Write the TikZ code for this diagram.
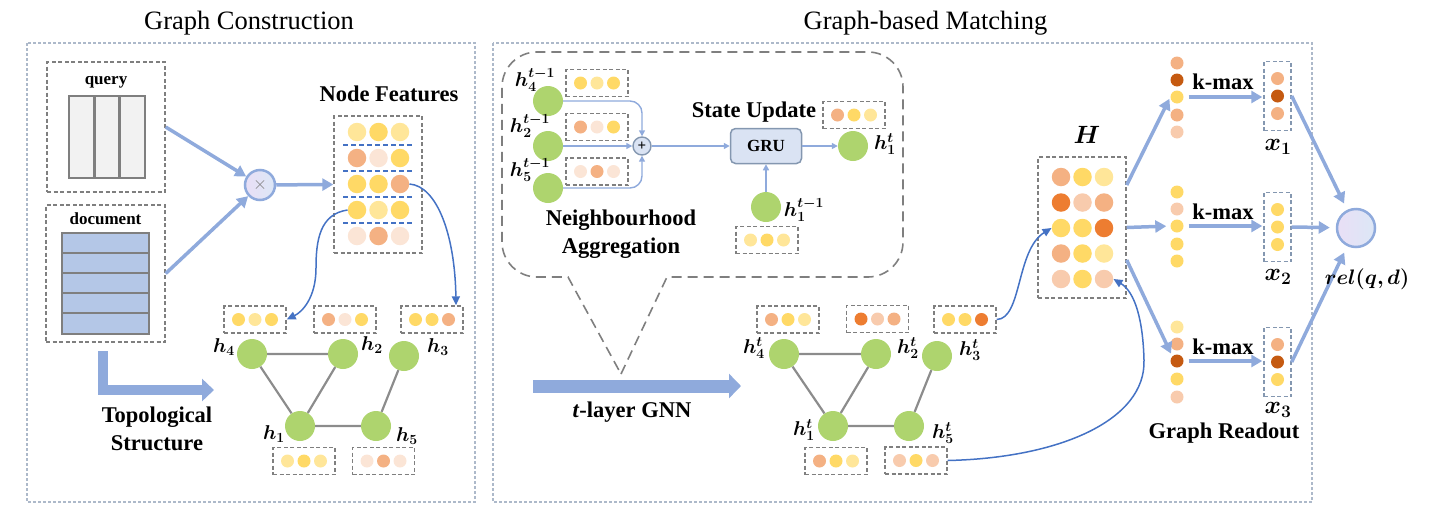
\RequirePackage{fix-cm}
\documentclass[tikz,border=0pt]{standalone}
\usepackage{fontspec}
\setmainfont{Liberation Serif}
\usepackage{amsmath,bm}
\usetikzlibrary{arrows.meta}
\definecolor{yel}{HTML}{FFD966}
\definecolor{lyel}{HTML}{FFE699}
\definecolor{sal}{HTML}{F4B183}
\definecolor{pale}{HTML}{FBE5D6}
\definecolor{peach}{HTML}{F8CBAD}
\definecolor{dor}{HTML}{ED7D31}
\definecolor{brn}{HTML}{C55A11}
\definecolor{gnc}{HTML}{AED46E}
\definecolor{lblue}{HTML}{8FAADC}
\definecolor{dblue}{HTML}{4472C4}
\definecolor{panelc}{HTML}{ADB9CA}
\definecolor{boxg}{HTML}{7F7F7F}
\definecolor{edgeg}{HTML}{8C8C8C}
\definecolor{grufill}{HTML}{DAE3F3}
\definecolor{xboxc}{HTML}{8497B0}
\definecolor{qfill}{HTML}{F2F2F2}
\definecolor{dfill}{HTML}{B4C7E7}
\definecolor{lav}{HTML}{E9DFF6}
\definecolor{lav2}{HTML}{DCE7F6}
\tikzset{
 panel/.style={draw=panelc, dash pattern=on 3pt off 2pt, line width=1.1pt},
 dbox/.style={draw=boxg, dash pattern=on 4pt off 2.5pt, line width=1.4pt, inner sep=0},
 gbox/.style={dbox, minimum width=62pt, minimum height=27pt},
 xbox/.style={draw=xboxc, dash pattern=on 4pt off 2.5pt, line width=1.4pt, inner sep=0, minimum width=27pt, minimum height=69pt},
 fdot/.style={circle, inner sep=0, minimum size=13pt},
 bdot/.style={circle, inner sep=0, minimum size=18.5pt},
 gnode/.style={circle, fill=gnc, inner sep=0, minimum size=30pt},
 fat/.style={draw=lblue, line width=3.5pt, -{Triangle[length=11pt,width=12pt]}},
 thinarrow/.style={draw=lblue, line width=1.4pt, -{Triangle[length=6pt,width=6pt]}},
 bcurve/.style={draw=dblue, line width=1.5pt, -{Triangle[length=9pt,width=8pt]}},
 gedge/.style={draw=edgeg, line width=2.2pt},
 ttl/.style={font=\fontsize{26.5}{30}\selectfont, inner sep=0, anchor=base},
 lbl/.style={font=\fontsize{22.5}{28}\selectfont\bfseries, inner sep=0, align=center},
 sml/.style={font=\fontsize{17}{20}\selectfont\bfseries, inner sep=0},
 mlbl/.style={font=\fontsize{20}{22}\selectfont, inner sep=0},
 blbl/.style={font=\fontsize{25}{28}\selectfont, inner sep=0},
 circ/.style={circle, inner sep=0, left color=lav, right color=lav2, draw=lblue, line width=2.5pt},
}
\newcommand{\fbx}[6]{%
 \node[gbox] (#1) at (#2,#3) {};
 \node[fdot, fill=#4] (#1-1) at ([xshift=-16.5pt]#1.center) {};
 \node[fdot, fill=#5] (#1-2) at (#1.center) {};
 \node[fdot, fill=#6] (#1-3) at ([xshift=16.5pt]#1.center) {};
}
\newcommand{\xbx}[5]{%
 \node[xbox] (#1) at (1277.5,#2) {};
 \node[fdot, fill=#3] (#1-1) at ([yshift=17.5pt]#1.center) {};
 \node[fdot, fill=#4] (#1-2) at (#1.center) {};
 \node[fdot, fill=#5] (#1-3) at ([yshift=-17.5pt]#1.center) {};
}
\newcommand{\hlab}[2]{$\boldsymbol{h}^{\boldsymbol{#1}}_{\boldsymbol{#2}}$}
\newcommand{\hsub}[1]{$\boldsymbol{h}_{\boldsymbol{#1}}$}
\begin{document}
\begin{tikzpicture}[x=1pt,y=-1pt]
\useasboundingbox (0,0) rectangle (1430,520);
% titles and panels
\node[ttl] (t1) at (249,29) {Graph Construction};
\node[ttl] (t2) at (925.5,29) {Graph-based Matching};
\draw[panel] (27,43) rectangle (475,502);
\draw[panel] (493,43) rectangle (1312,502);

% ---------- left panel ----------
\node[dbox, minimum width=118pt, minimum height=130pt] (qbox) at (106,127) {};
\node[sml] (qlab) at (106,82) {query};
\draw[draw=boxg, fill=qfill, line width=2.4pt] (69,96) rectangle (145,178);
\draw[draw=boxg, line width=2.4pt] (94.5,96) -- (94.5,178) (119.5,96) -- (119.5,178);
\node[dbox, minimum width=119pt, minimum height=137pt] (docbox) at (105.5,273.5) {};
\node[sml] (dlab) at (105.5,219) {document};
\draw[draw=boxg, fill=dfill, line width=2.4pt] (62,233) rectangle (149,334);
\draw[draw=boxg, line width=2.4pt] (62,253) -- (149,253) (62,273) -- (149,273) (62,293) -- (149,293) (62,313) -- (149,313);

\node[circ, minimum size=30pt, text=boxg, font=\fontsize{18}{18}\selectfont] (mul) at (260,185) {$\times$};
\node[dbox, minimum width=88pt, minimum height=137pt] (nf) at (378,184.5) {};
\node[lbl] (nflab) at (389,94) {Node Features};
\draw[fat] (qbox.east) -- (mul);
\draw[fat] (docbox.east) -- (mul);
\draw[fat] (mul) -- (nf.west);
% node feature matrix
\foreach \r/\y/\a/\b/\c in {1/132/lyel/yel/lyel, 2/158/sal/pale/yel, 3/184/yel/yel/sal, 4/210/yel/lyel/yel, 5/236/pale/sal/pale}{
 \node[bdot, fill=\a] (nf-\r-1) at (357,\y) {};
 \node[bdot, fill=\b] (nf-\r-2) at (378.5,\y) {};
 \node[bdot, fill=\c] (nf-\r-3) at (400,\y) {};
}
\foreach \y in {145,171,197,223}{
 \draw[dblue, dash pattern=on 5pt off 3pt, line width=1.2pt] (343,\y) -- (413,\y);
}
% graph
\node[gnode] (h4) at (252,354) {};
\node[gnode] (h2) at (343,354) {};
\node[gnode] (h3) at (404,356) {};
\node[gnode] (h1) at (300,426) {};
\node[gnode] (h5) at (376,426) {};
\draw[gedge] (h4) -- (h2) (h4) -- (h1) (h2) -- (h1) (h1) -- (h5) (h5) -- (h3);
\node[mlbl] (lh4) at (224,347) {\hsub{4}};
\node[mlbl] (lh2) at (372,345) {\hsub{2}};
\node[mlbl] (lh3) at (438,347) {\hsub{3}};
\node[mlbl] (lh1) at (274,434) {\hsub{1}};
\node[mlbl] (lh5) at (407,436) {\hsub{5}};
\fbx{fb4}{255}{319.5}{yel}{lyel}{yel}
\fbx{fb2}{345}{319.5}{sal}{pale}{yel}
\fbx{fb3}{432}{319.5}{yel}{yel}{sal}
\fbx{fb1}{304}{461}{lyel}{yel}{lyel}
\fbx{fb5}{383.5}{461}{pale}{sal}{pale}
\draw[bcurve] (nf-4-1.west) .. controls (320,214) and (316,240) .. (316,268) .. controls (316,298) and (302,312) .. (fb4.east);
\draw[bcurve] (nf-3-3.east) .. controls (437,186) and (455,235) .. ([xshift=24pt]fb3.north);
% topological arrow
\coordinate (topA) at (103,351);
\coordinate (topB) at (214,390);
\draw[draw=lblue, line width=10.5pt, -{Triangle[length=12pt,width=22pt]}] (topA) |- (topB);
\node[lbl] (toplab) at (157,429) {Topological\\Structure};

% ---------- right panel ----------
% bubble
\draw[draw=boxg, dash pattern=on 10pt off 6pt, line width=1.6pt]
 (621,374) -- (667,277) -- (868,277) .. controls (887.3,277) and (903,261.3) .. (903,242)
 -- (903,87) .. controls (903,67.7) and (887.3,52) .. (868,52)
 -- (537,52) .. controls (517.7,52) and (502,67.7) .. (502,87)
 -- (502,242) .. controls (502,261.3) and (517.7,277) .. (537,277)
 -- (568,277) -- cycle;
\node[gnode] (a4) at (548,101) {};
\node[gnode] (a2) at (548,146) {};
\node[gnode] (a5) at (548,188) {};
\node[mlbl] (la4) at (535,80) {\hlab{t-1}{4}};
\node[mlbl] (la2) at (530,126) {\hlab{t-1}{2}};
\node[mlbl] (la5) at (530,170) {\hlab{t-1}{5}};
\fbx{fa4}{597}{83}{yel}{lyel}{yel}
\fbx{fa2}{597}{127}{sal}{pale}{yel}
\fbx{fa5}{597}{171.5}{pale}{sal}{pale}
\node[circle, inner sep=0, minimum size=18pt, fill=grufill, draw=xboxc, line width=1.4pt, font=\fontsize{15}{15}\selectfont\bfseries] (plus) at (642,146) {+};
\draw[thinarrow, rounded corners=12pt] (a4.east) -| (plus.north);
\draw[thinarrow, rounded corners=12pt] (a5.east) -| (plus.south);
\draw[thinarrow] (a2) -- (plus);
\node[draw=xboxc, fill=grufill, rounded corners=5pt, line width=1.5pt, minimum width=71pt, minimum height=35pt, inner sep=0, sml] (gru) at (766,146) {GRU};
\node[gnode] (t1a) at (853,146) {};
\node[mlbl] (lt1a) at (885,144) {\hlab{t}{1}};
\node[gnode] (a1) at (766,207) {};
\node[mlbl] (la1) at (804,210) {\hlab{t-1}{1}};
\fbx{fa1}{767}{240}{lyel}{yel}{lyel}
\fbx{fsu}{854}{115}{sal}{yel}{lyel}
\draw[thinarrow] (plus) -- (gru);
\draw[thinarrow] (gru) -- (t1a);
\draw[thinarrow] (a1) -- (gru);
\node[lbl] (sulab) at (754,112) {State Update};
\node[lbl] (nalab) at (621,234) {Neighbourhood\\Aggregation};
% t-layer GNN arrow
\coordinate (gA) at (533,386);
\coordinate (gB) at (741,386);
\draw[draw=lblue, line width=13pt, -{Triangle[length=12pt,width=24pt]}] (gA) -- (gB);
\node[lbl] (gnnlab) at (632,412) {\textit{t}-layer GNN};
% middle graph
\node[gnode] (t4) at (784,354) {};
\node[gnode] (t2) at (876,354) {};
\node[gnode] (t3) at (937,356) {};
\node[gnode] (t1) at (833,426) {};
\node[gnode] (t5) at (909,426) {};
\draw[gedge] (t4) -- (t2) (t4) -- (t1) (t2) -- (t1) (t1) -- (t5) (t5) -- (t3);
\node[mlbl] (lt4) at (754,348) {\hlab{t}{4}};
\node[mlbl] (lt2) at (908,348) {\hlab{t}{2}};
\node[mlbl] (lt3) at (970,350) {\hlab{t}{3}};
\node[mlbl] (lt1) at (804,430) {\hlab{t}{1}};
\node[mlbl] (lt5) at (943,433) {\hlab{t}{5}};
\fbx{ft4}{788}{319.5}{sal}{yel}{lyel}
\fbx{ft2}{877.5}{319}{dor}{peach}{sal}
\fbx{ft3}{965}{319.5}{yel}{yel}{dor}
\fbx{ft1}{836}{461}{sal}{yel}{lyel}
\fbx{ft5}{916}{460.5}{peach}{yel}{peach}
% H matrix
\node[dbox, minimum width=88pt, minimum height=141pt] (Hbox) at (1082,227.5) {};
\node[blbl] (Hlab) at (1087,135) {$\boldsymbol{H}$};
\foreach \r/\y/\a/\b/\c in {1/177/sal/yel/lyel, 2/202.5/dor/peach/sal, 3/228/yel/yel/dor, 4/253.5/sal/yel/lyel, 5/279/peach/yel/peach}{
 \node[bdot, fill=\a] (H-\r-1) at (1061,\y) {};
 \node[bdot, fill=\b] (H-\r-2) at (1082.5,\y) {};
 \node[bdot, fill=\c] (H-\r-3) at (1104,\y) {};
}
\draw[bcurve] (ft3.east) .. controls (1022,319) and (1016,250) .. (H-3-1.west);
\draw[bcurve] (ft5.east) .. controls (1060,458) and (1146,420) .. (1144,360) .. controls (1143,320) and (1135,292) .. (H-5-3.east);
% readout columns
\foreach \k/\y/\c in {1/63/sal, 2/80/brn, 3/97/yel, 4/115/sal, 5/132/peach}{
 \node[fdot, fill=\c] (c1-\k) at (1177,\y) {};
}
\foreach \k/\y/\c in {1/192/yel, 2/209/peach, 3/226/yel, 4/244/yel, 5/261/yel}{
 \node[fdot, fill=\c] (c2-\k) at (1177,\y) {};
}
\foreach \k/\y/\c in {1/327/lyel, 2/344/sal, 3/361/brn, 4/379/yel, 5/397/peach}{
 \node[fdot, fill=\c] (c3-\k) at (1177,\y) {};
}
\draw[fat, shorten >=2pt] ([yshift=42.5pt]Hbox.east) -- (c1-3.west);
\draw[fat, shorten >=4pt] (Hbox.east) -- (c2-3.west);
\draw[fat, shorten >=3pt] ([yshift=-32.5pt]Hbox.east) -- (c3-3.north west);
\xbx{x1}{96}{sal}{brn}{sal}
\xbx{x2}{227}{yel}{yel}{yel}
\xbx{x3}{362}{sal}{brn}{yel}
\draw[fat, shorten <=5pt, shorten >=1pt] (c1-3.east) -- (c1-3.east -| x1.west);
\draw[fat, shorten <=5pt, shorten >=1pt] (c2-3.east) -- (c2-3.east -| x2.west);
\draw[fat, shorten <=5pt, shorten >=1pt] (c3-3.east) -- (c3-3.east -| x3.west);
\node[lbl] (k1) at (1223,82) {k-max};
\node[lbl] (k2) at (1223,212) {k-max};
\node[lbl] (k3) at (1223,347) {k-max};
\node[blbl] (lx1) at (1278,147) {$\boldsymbol{x}_{\boldsymbol{1}}$};
\node[blbl] (lx2) at (1278,277) {$\boldsymbol{x}_{\boldsymbol{2}}$};
\node[blbl] (lx3) at (1278,410) {$\boldsymbol{x}_{\boldsymbol{3}}$};
\node[lbl] (grlab) at (1224,433) {Graph Readout};
\node[circ, minimum size=38pt] (rel) at (1356,228) {};
\draw[fat, shorten >=7pt] (x1.east) -- (rel);
\draw[fat, shorten >=6pt] (x2.east) -- (rel);
\draw[fat, shorten >=7pt] (x3.east) -- (rel);
\node[mlbl, font=\fontsize{21}{23}\selectfont] (rellab) at (1367,279) {$\boldsymbol{rel(q,d)}$};
\end{tikzpicture}
\end{document}
